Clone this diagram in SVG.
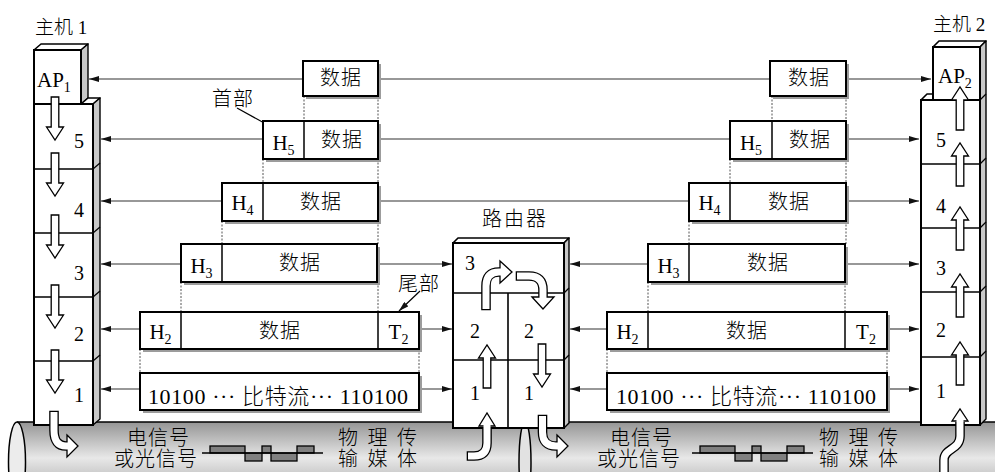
<svg xmlns="http://www.w3.org/2000/svg" width="995" height="472" viewBox="0 0 995 472">
<style>
.t{font-family:'Liberation Serif','Noto Sans CJK SC',serif;fill:#000}
.cj{font-size:20px;letter-spacing:1px;font-weight:300}
.num{font-size:20px;text-anchor:middle}
.box{fill:#fff;stroke:#000;stroke-width:2}
.sh{fill:#9c9c9c}
.dv{stroke:#000;stroke-width:1.5}
.conn{stroke:#333;stroke-width:1.1;fill:none}
.vd{stroke:#555;stroke-width:1;stroke-dasharray:2 1.5}
.face{fill:#fff;stroke:#000;stroke-width:1.6;stroke-linejoin:round}
.side{fill:#c8c8c8;stroke:#000;stroke-width:1.4;stroke-linejoin:round}
.fr{fill:#fff;stroke:#000;stroke-width:2}
.ln{stroke:#000;stroke-width:1.6}
.tk{stroke:#000;stroke-width:1.2}
.ha{fill:#fff;stroke:#000;stroke-width:1.3;stroke-linejoin:miter}
.ob{fill:none;stroke:#000;stroke-width:9.6}
.iw{fill:none;stroke:#fff;stroke-width:7}
.wv{fill:#808080;stroke:#000;stroke-width:1.3}
</style>
<defs>
<linearGradient id="pg" x1="0" y1="422" x2="0" y2="502" gradientUnits="userSpaceOnUse">
<stop offset="0" stop-color="#959595"/>
<stop offset="0.45" stop-color="#e8e8e8"/>
<stop offset="1" stop-color="#9a9a9a"/>
</linearGradient>
<marker id="ah" viewBox="0 0 10 6" refX="10" refY="3" markerWidth="10" markerHeight="6" markerUnits="userSpaceOnUse" orient="auto">
<path d="M0,0 L10,3 L0,6 z" fill="#111"/>
</marker>
<path id="ad" d="M-3.8,0 H3.8 V30 H8.5 L0,43 L-8.5,30 H-3.8 Z" fill="#fff" stroke="#000" stroke-width="1.3"/>
<path id="au" d="M-3.8,0 H3.8 V-30 H8.5 L0,-43 L-8.5,-30 H-3.8 Z" fill="#fff" stroke="#000" stroke-width="1.3"/>
</defs>

<rect width="995" height="472" fill="#fff"/>

<g id="medium-left">
<rect x="17" y="422" width="508" height="80" fill="url(#pg)"/>
<line x1="17" y1="422" x2="525" y2="422" stroke="#000" stroke-width="1.6"/>
<ellipse cx="17" cy="462" rx="8.5" ry="40" fill="#ececec" stroke="#000" stroke-width="1.5"/>
<text class="t cj" x="127" y="445">电信号</text>
<text class="t cj" x="114" y="466">或光信号</text>
<rect class="wv" x="210" y="446" width="35" height="7"/>
<rect class="wv" x="262" y="446" width="9" height="7"/>
<rect class="wv" x="297" y="446" width="17" height="7"/>
<rect class="wv" x="245" y="453" width="17" height="8"/>
<rect class="wv" x="271" y="453" width="26" height="8"/>
<line x1="202" y1="453" x2="323" y2="453" stroke="#000" stroke-width="1.3"/>
<text class="t cj" x="338" y="445" textLength="80" lengthAdjust="spacing">物 理 传</text>
<text class="t cj" x="338" y="466" textLength="80" lengthAdjust="spacing">输 媒 体</text>
</g>

<g id="medium-right">
<rect x="525" y="422" width="475" height="80" fill="url(#pg)"/>
<line x1="525" y1="422" x2="995" y2="422" stroke="#000" stroke-width="1.6"/>
<ellipse cx="525" cy="462" rx="6" ry="40" fill="#e2e2e2" stroke="#000" stroke-width="1.5"/>
<text class="t cj" x="610" y="445">电信号</text>
<text class="t cj" x="597" y="466">或光信号</text>
<rect class="wv" x="700" y="446" width="35" height="7"/>
<rect class="wv" x="752" y="446" width="9" height="7"/>
<rect class="wv" x="787" y="446" width="17" height="7"/>
<rect class="wv" x="735" y="453" width="17" height="8"/>
<rect class="wv" x="761" y="453" width="26" height="8"/>
<line x1="692" y1="453" x2="813" y2="453" stroke="#000" stroke-width="1.3"/>
<text class="t cj" x="819" y="445" textLength="80" lengthAdjust="spacing">物 理 传</text>
<text class="t cj" x="819" y="466" textLength="80" lengthAdjust="spacing">输 媒 体</text>
</g>

<g id="connectors">
<line class="conn" x1="303" y1="79" x2="89" y2="79" marker-end="url(#ah)"/>
<line class="conn" x1="378" y1="79" x2="770" y2="79"/>
<line class="conn" x1="846" y1="79" x2="931" y2="79" marker-end="url(#ah)"/>
<line class="conn" x1="263" y1="139" x2="101" y2="139" marker-end="url(#ah)"/>
<line class="conn" x1="378" y1="139" x2="730" y2="139"/>
<line class="conn" x1="846" y1="139" x2="919" y2="139" marker-end="url(#ah)"/>
<line class="conn" x1="222" y1="201" x2="101" y2="201" marker-end="url(#ah)"/>
<line class="conn" x1="378" y1="201" x2="689" y2="201"/>
<line class="conn" x1="846" y1="201" x2="919" y2="201" marker-end="url(#ah)"/>
<line class="conn" x1="181" y1="264" x2="101" y2="264" marker-end="url(#ah)"/>
<line class="conn" x1="378" y1="264" x2="452" y2="264" marker-end="url(#ah)"/>
<line class="conn" x1="648" y1="264" x2="570" y2="264" marker-end="url(#ah)"/>
<line class="conn" x1="845" y1="264" x2="919" y2="264" marker-end="url(#ah)"/>
<line class="conn" x1="140" y1="329" x2="101" y2="329" marker-end="url(#ah)"/>
<line class="conn" x1="419" y1="329" x2="452" y2="329" marker-end="url(#ah)"/>
<line class="conn" x1="607" y1="329" x2="570" y2="329" marker-end="url(#ah)"/>
<line class="conn" x1="887" y1="329" x2="919" y2="329" marker-end="url(#ah)"/>
<line class="conn" x1="140" y1="389" x2="101" y2="389" marker-end="url(#ah)"/>
<line class="conn" x1="419" y1="389" x2="452" y2="389" marker-end="url(#ah)"/>
<line class="conn" x1="607" y1="389" x2="570" y2="389" marker-end="url(#ah)"/>
<line class="conn" x1="887" y1="389" x2="919" y2="389" marker-end="url(#ah)"/>
<line class="vd" x1="304" y1="96" x2="304" y2="121"/>
<line class="vd" x1="378" y1="96" x2="378" y2="121"/>
<line class="vd" x1="263" y1="159" x2="263" y2="183"/>
<line class="vd" x1="378" y1="159" x2="378" y2="183"/>
<line class="vd" x1="222" y1="221" x2="222" y2="244"/>
<line class="vd" x1="378" y1="221" x2="378" y2="244"/>
<line class="vd" x1="181" y1="282" x2="181" y2="312"/>
<line class="vd" x1="378" y1="282" x2="378" y2="312"/>
<line class="vd" x1="140" y1="349" x2="140" y2="373"/>
<line class="vd" x1="419" y1="349" x2="419" y2="373"/>
<line class="vd" x1="772" y1="96" x2="772" y2="121"/>
<line class="vd" x1="846" y1="96" x2="846" y2="121"/>
<line class="vd" x1="730" y1="159" x2="730" y2="183"/>
<line class="vd" x1="846" y1="159" x2="846" y2="183"/>
<line class="vd" x1="689" y1="221" x2="689" y2="244"/>
<line class="vd" x1="846" y1="221" x2="846" y2="244"/>
<line class="vd" x1="648" y1="282" x2="648" y2="312"/>
<line class="vd" x1="845" y1="282" x2="845" y2="312"/>
<line class="vd" x1="607" y1="349" x2="607" y2="373"/>
<line class="vd" x1="887" y1="349" x2="887" y2="373"/>
<line x1="237" y1="108" x2="277" y2="130" stroke="#000" stroke-width="1.2" marker-end="url(#ah)"/>
<line x1="420" y1="291" x2="399" y2="311" stroke="#000" stroke-width="1.2" marker-end="url(#ah)"/>
</g>

<g id="host1">
<text class="t" x="35" y="34" font-size="19" font-weight="300">主机 1</text>
<polygon class="face" points="34,50 81,50 88,44 41,44"/>
<polygon class="side" points="81,50 88,44 88,98 81,104"/>
<polygon class="face" points="81,104 93,104 100,98 88,98"/>
<polygon class="side" points="93,104 100,98 100,419 93,425"/>
<line class="tk" x1="93" y1="169" x2="100" y2="163"/>
<line class="tk" x1="93" y1="233" x2="100" y2="227"/>
<line class="tk" x1="93" y1="297" x2="100" y2="291"/>
<line class="tk" x1="93" y1="361" x2="100" y2="355"/>
<rect class="fr" x="34" y="50" width="47" height="54"/>
<rect class="fr" x="34" y="104" width="59" height="321"/>
<line class="ln" x1="34" y1="169" x2="93" y2="169"/>
<line class="ln" x1="34" y1="233" x2="93" y2="233"/>
<line class="ln" x1="34" y1="297" x2="93" y2="297"/>
<line class="ln" x1="34" y1="361" x2="93" y2="361"/>
<text class="t" x="37" y="87" font-size="21">AP<tspan font-size="14" dy="5">1</tspan></text>
<text class="t num" x="79" y="148">5</text>
<text class="t num" x="79" y="217">4</text>
<text class="t num" x="79" y="280">3</text>
<text class="t num" x="79" y="341">2</text>
<text class="t num" x="79" y="402">1</text>
<use href="#ad" x="55" y="97"/>
<use href="#ad" x="55" y="153"/>
<use href="#ad" x="55" y="215"/>
<use href="#ad" x="55" y="285"/>
<use href="#ad" x="55" y="350"/>
<path class="ob" d="M54,410.7 V430 Q54,446 66,446 H69"/>
<polygon class="ha" points="67,435 78,446 67,457"/>
<path class="iw" d="M54,412 V430 Q54,446 66,446 H70"/>
</g>

<g id="router">
<text class="t cj" x="515" y="226" text-anchor="middle" style="letter-spacing:2px">路由器</text>
<polygon class="face" points="453,243 564,243 569,238 458,238"/>
<polygon class="side" points="564,243 569,238 569,423 564,428"/>
<line class="tk" x1="564" y1="293" x2="569" y2="288"/>
<line class="tk" x1="564" y1="360" x2="569" y2="355"/>
<rect class="fr" x="453" y="243" width="111" height="185"/>
<line class="ln" x1="453" y1="293" x2="564" y2="293"/>
<line class="ln" x1="453" y1="360" x2="564" y2="360"/>
<line class="ln" x1="508" y1="293" x2="508" y2="428"/>
<text class="t num" x="470" y="270">3</text>
<text class="t num" x="475" y="338">2</text>
<text class="t num" x="529" y="338">2</text>
<text class="t num" x="475" y="400">1</text>
<text class="t num" x="529" y="400">1</text>
<use href="#au" x="487" y="388"/>
<use href="#ad" x="542" y="344"/>
<path class="ob" d="M486,310.3 V286 Q486,272 499,272 H501"/>
<polygon class="ha" points="500,261 512,272 500,283"/>
<path class="iw" d="M486,309 V286 Q486,272 499,272 H503"/>
<path class="ob" d="M515.7,276 H529 Q543,276 543,290 V298"/>
<polygon class="ha" points="532,297 543,309 554,297"/>
<path class="iw" d="M517,276 H529 Q543,276 543,290 V299"/>
<path class="ob" d="M466.7,456 H474 Q487,456 487,443 V427"/>
<polygon class="ha" points="479,426 487,413 495,426"/>
<path class="iw" d="M468,456 H474 Q487,456 487,443 V424"/>
<path class="ob" d="M542.5,414.7 V432 Q542.5,446 556,446 H559"/>
<polygon class="ha" points="557,435 568,446 557,457"/>
<path class="iw" d="M542.5,416 V432 Q542.5,446 556,446 H560"/>
</g>

<g id="host2">
<text class="t" x="933" y="31" font-size="19" font-weight="300">主机 2</text>
<polygon class="face" points="933,47 980,47 986,41 939,41"/>
<polygon class="face" points="921,100 933,100 939,94 927,94"/>
<polygon class="side" points="980,47 986,41 986,419 980,425"/>
<line class="tk" x1="980" y1="100" x2="986" y2="94"/>
<line class="tk" x1="980" y1="164" x2="986" y2="158"/>
<line class="tk" x1="980" y1="228" x2="986" y2="222"/>
<line class="tk" x1="980" y1="292" x2="986" y2="286"/>
<line class="tk" x1="980" y1="357" x2="986" y2="351"/>
<rect class="fr" x="933" y="47" width="47" height="53"/>
<rect class="fr" x="921" y="100" width="59" height="325"/>
<line class="ln" x1="921" y1="164" x2="980" y2="164"/>
<line class="ln" x1="921" y1="228" x2="980" y2="228"/>
<line class="ln" x1="921" y1="292" x2="980" y2="292"/>
<line class="ln" x1="921" y1="357" x2="980" y2="357"/>
<text class="t" x="938" y="83" font-size="21">AP<tspan font-size="14" dy="5">2</tspan></text>
<text class="t num" x="941" y="147">5</text>
<text class="t num" x="941" y="213">4</text>
<text class="t num" x="941" y="275">3</text>
<text class="t num" x="941" y="337">2</text>
<text class="t num" x="941" y="398">1</text>
<use href="#au" x="960" y="130"/>
<use href="#au" x="960" y="186"/>
<use href="#au" x="960" y="250"/>
<use href="#au" x="960" y="317"/>
<use href="#au" x="960" y="385"/>
<path class="ob" d="M944,476 V460 C944,448 960,450 960,436 V422"/>
<polygon class="ha" points="952,421 960,409 968,421"/>
<path class="iw" d="M944,476 V460 C944,448 960,450 960,436 V419"/>
</g>

<g id="packets-left">
<g id="pl-ap">
<rect class="sh" x="306" y="64" width="75" height="35"/>
<rect class="box" x="303" y="61" width="75" height="35"/>
<text class="t cj" x="341" y="85" text-anchor="middle">数据</text>
</g>
<g id="pl-5">
<rect class="sh" x="266" y="124" width="115" height="38"/>
<rect class="box" x="263" y="121" width="115" height="38"/>
<line class="dv" x1="304" y1="121" x2="304" y2="159"/>
<text class="t" x="283.5" y="150" font-size="21" text-anchor="middle">H<tspan font-size="14" dy="5">5</tspan></text>
<text class="t cj" x="342" y="147" text-anchor="middle">数据</text>
</g>
<g id="pl-4">
<rect class="sh" x="225" y="186" width="156" height="38"/>
<rect class="box" x="222" y="183" width="156" height="38"/>
<line class="dv" x1="263" y1="183" x2="263" y2="221"/>
<text class="t" x="242.5" y="210" font-size="21" text-anchor="middle">H<tspan font-size="14" dy="5">4</tspan></text>
<text class="t cj" x="321" y="209" text-anchor="middle">数据</text>
</g>
<g id="pl-3">
<rect class="sh" x="184" y="247" width="196" height="38"/>
<rect class="box" x="181" y="244" width="196" height="38"/>
<line class="dv" x1="222" y1="244" x2="222" y2="282"/>
<text class="t" x="201.5" y="273" font-size="21" text-anchor="middle">H<tspan font-size="14" dy="5">3</tspan></text>
<text class="t cj" x="300" y="270" text-anchor="middle">数据</text>
</g>
<g id="pl-2">
<rect class="sh" x="143" y="315" width="279" height="37"/>
<rect class="box" x="140" y="312" width="279" height="37"/>
<line class="dv" x1="181" y1="312" x2="181" y2="349"/>
<line class="dv" x1="378" y1="312" x2="378" y2="349"/>
<text class="t" x="160.5" y="339" font-size="21" text-anchor="middle">H<tspan font-size="14" dy="5">2</tspan></text>
<text class="t cj" x="280" y="338" text-anchor="middle">数据</text>
<text class="t" x="398.5" y="339" font-size="21" text-anchor="middle">T<tspan font-size="14" dy="5">2</tspan></text>
</g>
<g id="pl-1">
<rect class="sh" x="143" y="376" width="279" height="37"/>
<rect class="box" x="140" y="373" width="279" height="37"/>
<text class="t" x="148" y="404" font-size="22" font-weight="300" textLength="260" lengthAdjust="spacing">10100 ··· 比特流··· 110100</text>
</g>
<text class="t cj" x="212" y="106">首部</text>
<text class="t cj" x="398" y="291">尾部</text>
</g>

<g id="packets-right">
<g id="pr-ap">
<rect class="sh" x="773" y="64" width="76" height="35"/>
<rect class="box" x="770" y="61" width="76" height="35"/>
<text class="t cj" x="809" y="85" text-anchor="middle">数据</text>
</g>
<g id="pr-5">
<rect class="sh" x="733" y="124" width="116" height="38"/>
<rect class="box" x="730" y="121" width="116" height="38"/>
<line class="dv" x1="772" y1="121" x2="772" y2="159"/>
<text class="t" x="751" y="150" font-size="21" text-anchor="middle">H<tspan font-size="14" dy="5">5</tspan></text>
<text class="t cj" x="810" y="147" text-anchor="middle">数据</text>
</g>
<g id="pr-4">
<rect class="sh" x="692" y="186" width="157" height="38"/>
<rect class="box" x="689" y="183" width="157" height="38"/>
<line class="dv" x1="730" y1="183" x2="730" y2="221"/>
<text class="t" x="709.5" y="210" font-size="21" text-anchor="middle">H<tspan font-size="14" dy="5">4</tspan></text>
<text class="t cj" x="789" y="209" text-anchor="middle">数据</text>
</g>
<g id="pr-3">
<rect class="sh" x="651" y="247" width="197" height="38"/>
<rect class="box" x="648" y="244" width="197" height="38"/>
<line class="dv" x1="689" y1="244" x2="689" y2="282"/>
<text class="t" x="668.5" y="273" font-size="21" text-anchor="middle">H<tspan font-size="14" dy="5">3</tspan></text>
<text class="t cj" x="768" y="270" text-anchor="middle">数据</text>
</g>
<g id="pr-2">
<rect class="sh" x="610" y="315" width="280" height="37"/>
<rect class="box" x="607" y="312" width="280" height="37"/>
<line class="dv" x1="648" y1="312" x2="648" y2="349"/>
<line class="dv" x1="845" y1="312" x2="845" y2="349"/>
<text class="t" x="627.5" y="339" font-size="21" text-anchor="middle">H<tspan font-size="14" dy="5">2</tspan></text>
<text class="t cj" x="747" y="338" text-anchor="middle">数据</text>
<text class="t" x="866" y="339" font-size="21" text-anchor="middle">T<tspan font-size="14" dy="5">2</tspan></text>
</g>
<g id="pr-1">
<rect class="sh" x="610" y="376" width="280" height="37"/>
<rect class="box" x="607" y="373" width="280" height="37"/>
<text class="t" x="616" y="404" font-size="22" font-weight="300" textLength="260" lengthAdjust="spacing">10100 ··· 比特流··· 110100</text>
</g>
</g>
</svg>
